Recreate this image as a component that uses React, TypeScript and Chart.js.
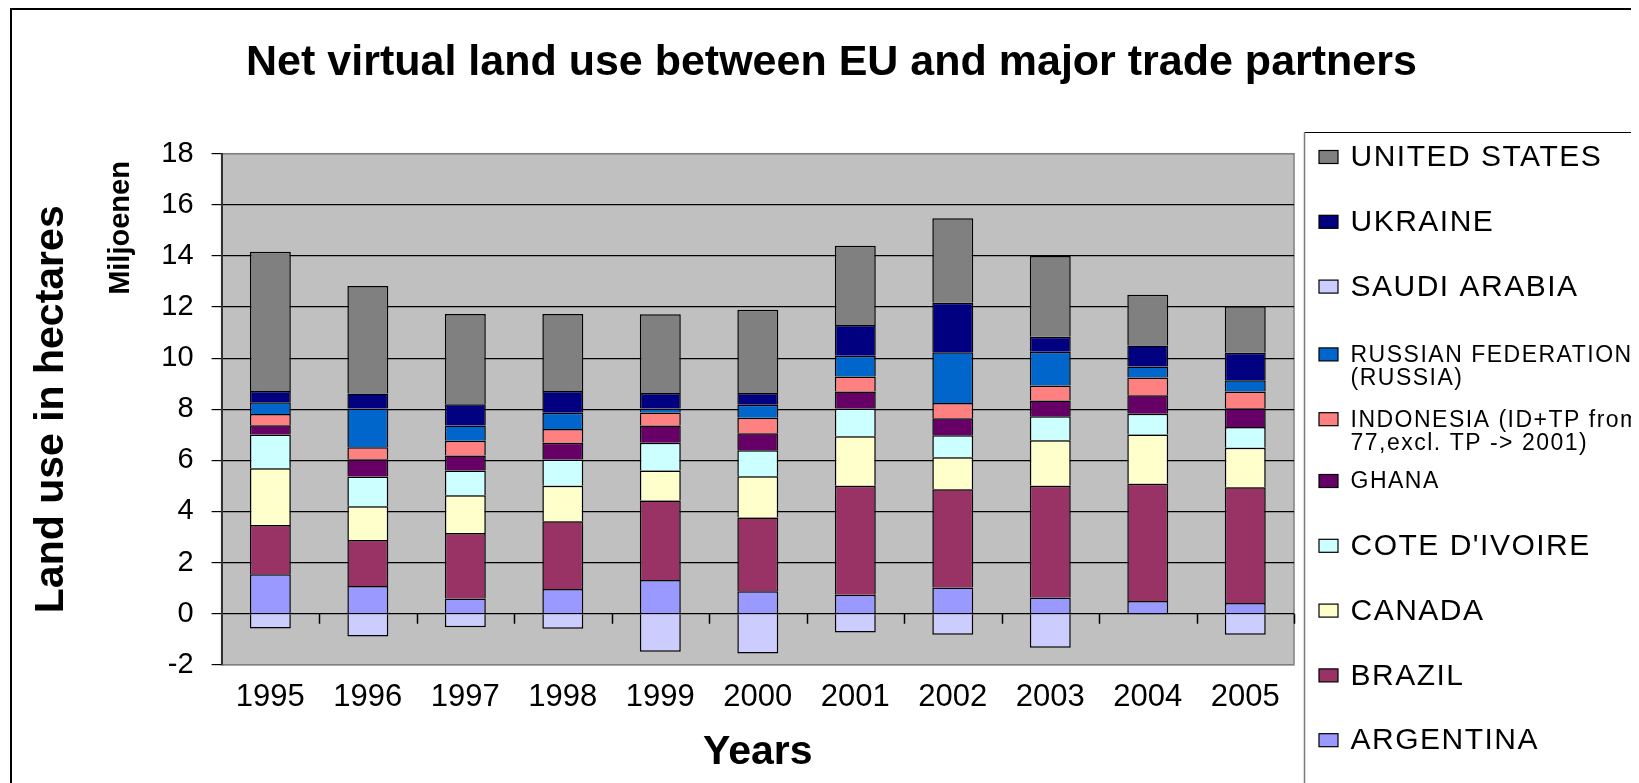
import { useEffect, useRef } from 'react';
import { Chart, registerables } from 'chart.js';

Chart.register(...registerables);

const FONT = '"Liberation Sans", Arial, Helvetica, sans-serif';

const years = ['1995', '1996', '1997', '1998', '1999', '2000', '2001', '2002', '2003', '2004', '2005'];

const argentina = [1.54, 1.08, 0.59, 0.97, 1.32, 0.88, 0.74, 1.02, 0.63, 0.5, 0.42];
const brazil = [1.93, 1.8, 2.57, 2.65, 3.11, 2.88, 4.27, 3.85, 4.38, 4.58, 4.53];
const canada = [2.22, 1.32, 1.47, 1.39, 1.17, 1.62, 1.93, 1.25, 1.78, 1.93, 1.54];
const coteDIvoire = [1.32, 1.17, 0.97, 1.02, 1.09, 1.02, 1.09, 0.86, 0.94, 0.81, 0.82];
const ghana = [0.36, 0.67, 0.59, 0.66, 0.67, 0.66, 0.66, 0.67, 0.61, 0.73, 0.73];
const indonesia = [0.44, 0.47, 0.58, 0.54, 0.51, 0.61, 0.59, 0.59, 0.59, 0.69, 0.65];
const russia = [0.46, 1.52, 0.59, 0.63, 0.16, 0.51, 0.81, 1.99, 1.32, 0.43, 0.44];
const saudiArabia = [-0.58, -0.89, -0.53, -0.59, -1.49, -1.56, -0.74, -0.82, -1.33, -0.03, -0.82];
const ukraine = [0.44, 0.59, 0.84, 0.85, 0.61, 0.46, 1.21, 1.94, 0.59, 0.82, 1.08];
const unitedStates = [5.45, 4.2, 3.53, 3.02, 3.08, 3.25, 3.1, 3.3, 3.16, 1.99, 1.82];

const seriesValues = [argentina, brazil, canada, coteDIvoire, ghana, indonesia, russia, saudiArabia, ukraine, unitedStates];

const seriesNames = [
  'ARGENTINA',
  'BRAZIL',
  'CANADA',
  "COTE D'IVOIRE",
  'GHANA',
  'INDONESIA (ID+TP from 77,excl. TP -> 2001)',
  'RUSSIAN FEDERATION (RUSSIA)',
  'SAUDI ARABIA',
  'UKRAINE',
  'UNITED STATES',
];

const legendLines = [
  ['ARGENTINA'],
  ['BRAZIL'],
  ['CANADA'],
  ["COTE D'IVOIRE"],
  ['GHANA'],
  ['INDONESIA (ID+TP from', '77,excl. TP -> 2001)'],
  ['RUSSIAN FEDERATION', '(RUSSIA)'],
  ['SAUDI ARABIA'],
  ['UKRAINE'],
  ['UNITED STATES'],
];

const legendSmall = [false, false, false, false, true, true, true, false, false, false];

const seriesColors = ['#9999FF', '#993366', '#FFFFCC', '#CCFFFF', '#660066', '#FF8080', '#0066CC', '#CCCCFF', '#000080', '#808080'];

const yTickValues = [-2, 0, 2, 4, 6, 8, 10, 12, 14, 16, 18];

const decorPlugin = {
  id: 'decor',
  beforeDraw(chart: any) {
    const { ctx, chartArea: a, width, height } = chart;
    ctx.save();
    ctx.fillStyle = '#ffffff';
    ctx.fillRect(0, 0, width, height);
    ctx.fillStyle = '#C0C0C0';
    ctx.fillRect(a.left, a.top, a.right - a.left, a.bottom - a.top);
    ctx.strokeStyle = '#808080';
    ctx.lineWidth = 1.5;
    ctx.strokeRect(a.left, a.top, a.right - a.left, a.bottom - a.top);
    ctx.restore();
  },
  afterDatasetsDraw(chart: any) {
    const { ctx } = chart;
    const xs = chart.scales.x;
    const ys = chart.scales.y;
    const y0 = ys.getPixelForValue(0);
    const step = xs.getPixelForValue(1) - xs.getPixelForValue(0);
    ctx.save();
    ctx.strokeStyle = '#000';
    ctx.lineWidth = 1.5;
    ctx.beginPath();
    for (let i = 0; i < years.length; i++) {
      const x = Math.round(xs.getPixelForValue(i) + step / 2) + 0.5;
      ctx.moveTo(x, y0);
      ctx.lineTo(x, y0 + 10);
    }
    ctx.stroke();
    ctx.restore();
  },
  afterDraw(chart: any) {
    const { ctx, width, height } = chart;
    ctx.save();
    // outer frame
    ctx.fillStyle = '#000';
    ctx.fillRect(2, 0, width, 2);
    ctx.fillRect(2, 0, 2, height);

    // display units label
    ctx.save();
    ctx.translate(113, 220);
    ctx.rotate(-Math.PI / 2);
    ctx.font = `bold 29px ${FONT}`;
    ctx.textAlign = 'center';
    ctx.textBaseline = 'middle';
    ctx.fillStyle = '#000';
    ctx.fillText('Miljoenen', 0, 0);
    ctx.restore();

    // legend box
    const lx = 1296.5;
    const ly = 124.5;
    ctx.fillStyle = '#fff';
    ctx.fillRect(lx, ly, width - lx + 5, height - ly + 5);
    ctx.strokeStyle = '#000';
    ctx.lineWidth = 1;
    ctx.beginPath();
    ctx.moveTo(lx, ly);
    ctx.lineTo(width, ly);
    ctx.stroke();
    ctx.strokeStyle = '#7a7a7a';
    ctx.lineWidth = 1.5;
    ctx.beginPath();
    ctx.moveTo(lx, ly);
    ctx.lineTo(lx, height);
    ctx.stroke();

    const n = chart.data.datasets.length;
    for (let k = 0; k < n; k++) {
      const di = n - 1 - k;
      const ds = chart.data.datasets[di];
      const lines = legendLines[di];
      const small = legendSmall[di];
      const slotY = 149 + 64.8 * k;
      const firstY = lines.length > 1 ? slotY + 3 : slotY;
      ctx.fillStyle = ds.backgroundColor;
      ctx.fillRect(1311, firstY - 6.5, 19, 13);
      ctx.strokeStyle = '#000';
      ctx.lineWidth = 1.2;
      ctx.strokeRect(1311, firstY - 6.5, 19, 13);
      ctx.fillStyle = '#000';
      ctx.font = `${small ? 23 : 30}px ${FONT}`;
      (ctx as any).letterSpacing = '1.5px';
      ctx.textAlign = 'left';
      ctx.textBaseline = 'middle';
      lines.forEach((t: string, li: number) => {
        ctx.fillText(t, 1342.5, firstY + 1 + li * 23);
      });
    }
    (ctx as any).letterSpacing = '0px';
    ctx.restore();
  },
};

export default function App() {
  const ref = useRef<HTMLCanvasElement | null>(null);

  useEffect(() => {
    if (!ref.current) return;
    Chart.defaults.font.family = FONT;
    Chart.defaults.color = '#000';
    const chart = new Chart(ref.current, {
      type: 'bar',
      data: {
        labels: years,
        datasets: seriesValues.map((vals, i) => ({
          label: seriesNames[i],
          data: vals,
          backgroundColor: seriesColors[i],
          borderColor: '#000',
          borderWidth: 1.5,
          barPercentage: 0.42,
          categoryPercentage: 1.0,
          xAxisID: 'x',
          yAxisID: 'y',
        })),
      },
      options: {
        animation: false,
        responsive: true,
        maintainAspectRatio: false,
        events: [],
        layout: { padding: { left: 16, right: 0, top: 0, bottom: 0 } },
        plugins: {
          legend: { display: false },
          tooltip: { enabled: false },
          title: {
            display: true,
            text: 'Net virtual land use between EU and major trade partners',
            color: '#000',
            font: { family: FONT, size: 43, weight: 'bold', lineHeight: 1.2 },
            padding: { top: 29.4, bottom: 64.7 },
          },
        },
        scales: {
          x: {
            stacked: true,
            grid: { display: false, drawTicks: false },
            border: { display: false },
            ticks: { color: '#000', font: { family: FONT, size: 31 }, padding: 14, maxRotation: 0, autoSkip: false },
            title: {
              display: true,
              text: 'Years',
              color: '#000',
              font: { family: FONT, size: 41, weight: 'bold', lineHeight: 1.2 },
              padding: { top: 0, bottom: 6 },
            },
            afterFit: (s: any) => {
              s.height = 118.2;
            },
          },
          y: {
            stacked: true,
            min: -2,
            max: 18,
            afterBuildTicks: (s: any) => {
              s.ticks = yTickValues.map((v) => ({ value: v }));
            },
            grid: {
              color: (c: any) => (c.tick && (c.tick.value === 18 || c.tick.value === -2) ? '#808080' : '#000'),
              tickColor: '#000',
              lineWidth: 1.2,
              tickLength: 10,
              drawTicks: true,
            },
            border: { display: true, color: '#333', width: 2 },
            ticks: { color: '#000', font: { family: FONT, size: 29 }, padding: 18 },
            title: {
              display: true,
              text: 'Land use in hectares',
              color: '#000',
              font: { family: FONT, size: 41, weight: 'bold', lineHeight: 1.2 },
              padding: { top: 3, bottom: 0 },
            },
            afterFit: (s: any) => {
              s.width = 197.6;
            },
          },
          legendSpace: {
            type: 'linear',
            position: 'right',
            display: true,
            grid: { display: false, drawTicks: false },
            border: { display: false },
            ticks: { display: false },
            afterFit: (s: any) => {
              s.width = 345;
            },
          },
        },
      },
      plugins: [decorPlugin],
    } as any);
    return () => chart.destroy();
  }, []);

  return (
    <div style={{ position: 'relative', width: '1631px', height: '775px' }}>
      <canvas ref={ref} />
    </div>
  );
}
